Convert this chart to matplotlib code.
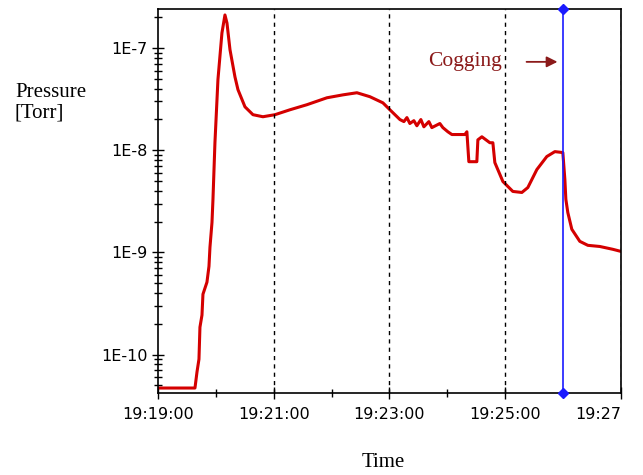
import matplotlib.pyplot as plt
from matplotlib.ticker import LogLocator, NullFormatter, FixedLocator

# minutes after 19:19:00
time_min = [0.0, 0.639, 0.674, 0.708, 0.725, 0.760, 0.777, 0.846, 0.881, 0.898,
            0.933, 0.950, 0.984, 1.036, 1.105, 1.157, 1.192, 1.244, 1.330, 1.382,
            1.503, 1.641, 1.813, 2.021, 2.280, 2.573, 2.919, 3.195, 3.437, 3.661,
            3.886, 4.007, 4.180, 4.249, 4.301, 4.352, 4.421, 4.473, 4.542, 4.594,
            4.680, 4.732, 4.870, 4.922, 5.009, 5.078, 5.302, 5.337, 5.371, 5.509,
            5.527, 5.596, 5.734, 5.786, 5.820, 5.959, 6.131, 6.287, 6.390, 6.546,
            6.718, 6.857, 6.995, 7.030, 7.047, 7.081, 7.150, 7.288, 7.427, 7.634,
            7.858, 8.0]
pressure = [4.7e-11, 4.7e-11, 6.75e-11, 9.0e-11, 1.85e-10, 2.43e-10, 3.89e-10, 5.1e-10, 7.3e-10, 1.12e-9,
            1.96e-9, 3.3e-9, 1.18e-8, 4.9e-8, 1.4e-7, 2.1e-7, 1.75e-7, 9.6e-8, 5.2e-8, 3.9e-8,
            2.65e-8, 2.22e-8, 2.12e-8, 2.22e-8, 2.48e-8, 2.78e-8, 3.25e-8, 3.47e-8, 3.64e-8, 3.33e-8,
            2.9e-8, 2.48e-8, 1.99e-8, 1.90e-8, 2.08e-8, 1.82e-8, 1.94e-8, 1.73e-8, 1.99e-8, 1.69e-8,
            1.90e-8, 1.66e-8, 1.82e-8, 1.66e-8, 1.51e-8, 1.42e-8, 1.42e-8, 1.51e-8, 7.7e-9, 7.7e-9,
            1.26e-8, 1.35e-8, 1.18e-8, 1.18e-8, 7.55e-9, 4.93e-9, 3.94e-9, 3.85e-9, 4.3e-9, 6.45e-9,
            8.65e-9, 9.66e-9, 9.46e-9, 5.15e-9, 3.3e-9, 2.45e-9, 1.68e-9, 1.28e-9, 1.17e-9, 1.14e-9,
            1.07e-9, 1.02e-9]

cogging_time = 7.0
x_major = [0, 2, 4, 6, 8]
x_labels = ["19:19:00", "19:21:00", "19:23:00", "19:25:00", "19:27"]
y_major = [1e-10, 1e-9, 1e-8, 1e-7]
y_labels = ["1E-10", "1E-9", "1E-8", "1E-7"]

fig = plt.figure(figsize=(6.43, 4.75), dpi=100)
ax = fig.add_axes([0.2457, 0.1726, 0.7201, 0.8084])

ax.plot(time_min, pressure, color="#d40000", lw=2.2)
ax.set_yscale("log")
ax.set_xlim(0, 8)
ax.set_ylim(4.2e-11, 2.4e-7)

# dashed vertical grid
for x in x_major[1:]:
    ax.axvline(x, color="black", lw=1, ls=(0, (3, 3)))

ax.axvline(cogging_time, color="#1a1aff", lw=1.2, marker="D", ms=5,
           markerfacecolor="#1a1aff", markeredgecolor="#1a1aff", clip_on=False, zorder=5)

ax.text(5.3, 7.3e-8, "Cogging", color="#8b1a1a", fontsize=15.5,
        family="Liberation Serif", ha="center", va="center")
ax.annotate("", xy=(6.95, 7.3e-8), xytext=(6.32, 7.3e-8),
            arrowprops=dict(arrowstyle="-|>", color="#8b1a1a", lw=1.3, mutation_scale=16))

ax.xaxis.set_major_locator(FixedLocator(x_major))
ax.xaxis.set_minor_locator(FixedLocator([1, 3, 5, 7]))
ax.set_xticklabels(x_labels)
ax.get_xticklabels()[-1].set_ha("right")
ax.yaxis.set_major_locator(FixedLocator(y_major))
ax.set_yticklabels(y_labels)
ax.yaxis.set_minor_locator(LogLocator(base=10, subs=range(2, 10)))
ax.yaxis.set_minor_formatter(NullFormatter())

ax.tick_params(axis="both", which="both", direction="inout", labelsize=11.5, color="black")
ax.tick_params(axis="both", which="major", length=8, width=1)
ax.tick_params(axis="both", which="minor", length=6, width=1)
ax.tick_params(axis="x", pad=6)

for s in ax.spines.values():
    s.set_linewidth(1.2)

ax.set_ylabel("Pressure\n[Torr]", rotation=0, fontsize=15, family="Liberation Serif",
              ha="left", va="center", linespacing=1.1)
ax.yaxis.set_label_coords(-0.309, 0.755)
ax.set_xlabel("Time", fontsize=15, family="Liberation Serif", va="center")
ax.xaxis.set_label_coords(0.486, -0.182)

fig.savefig("out.png", dpi=100)
